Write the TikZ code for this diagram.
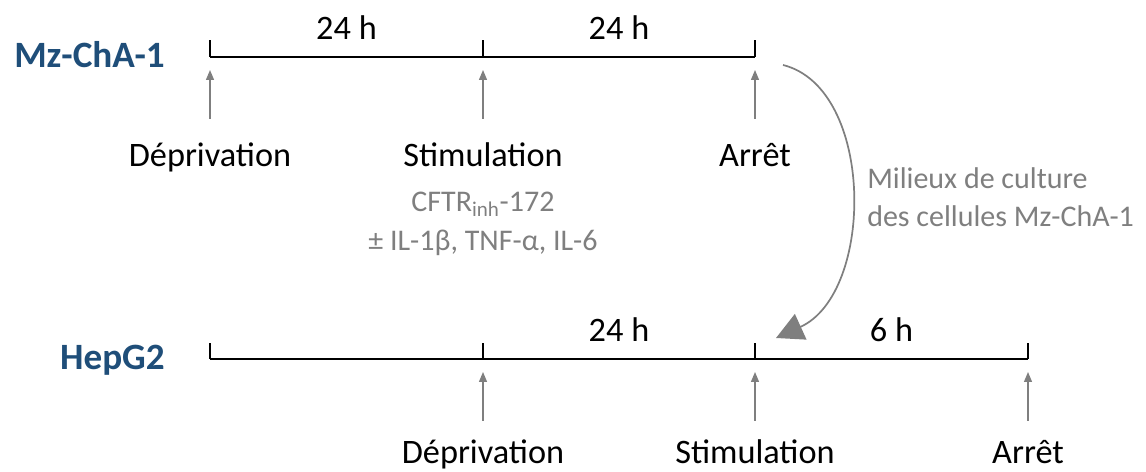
\documentclass[tikz,border=0pt]{standalone}
\usepackage{fontspec}
\setmainfont{Carlito}
\usepackage{tikz}
\usetikzlibrary{arrows.meta, positioning, calc}
\definecolor{cellblue}{RGB}{31, 78, 121}
\definecolor{softgray}{RGB}{127, 127, 127}

\begin{document}
\begin{tikzpicture}[x=0.7pt, y=-0.7pt,
    timeline/.style={line width=1.4pt, black},
    tickmark/.style={line width=1.2pt, black},
    uparrow/.style={-{Triangle[length=7pt, width=5.6pt]}, line width=0.9pt, softgray, shorten >=9.1pt},
    cellname/.style={font=\fontsize{26}{31}\selectfont\bfseries, text=cellblue, anchor=base east, inner sep=0pt},
    eventlabel/.style={font=\fontsize{24}{29}\selectfont, anchor=base, inner sep=0pt},
    duration/.style={font=\fontsize{24}{29}\selectfont, midway, anchor=base, yshift=11.9pt, inner sep=0pt},
    note/.style={font=\fontsize{21}{27}\selectfont, text=softgray, inner sep=0pt}]
    \useasboundingbox (0,0) rectangle (1146,472);

    % Mz-ChA-1 timeline
    \node[cellname] (mzcha) at (165,68) {Mz-ChA-1};
    \coordinate (m1) at (210,57);
    \coordinate (m2) at (483,57);
    \coordinate (m3) at (755,57);
    \draw[timeline] (m1) -- node[duration] (d1) {24 h} (m2) -- node[duration] (d2) {24 h} (m3);
    \foreach \p in {m1, m2, m3} {
        \draw[tickmark] (\p) -- ++(0,-17);
    }

    % Mz-ChA-1 events
    \foreach \p/\t in {m1/Déprivation, m2/Stimulation, m3/Arrêt} {
        \coordinate (\p base) at ($(\p)+(0,62)$);
        \draw[uparrow] (\p base) -- (\p);
        \node[eventlabel] (\p text) at ($(\p)+(0,110)$) {\t};
    }

    % Treatment
    \node[note, align=center, anchor=north] (treat) at (483,192)
        {CFTR\textsubscript{inh}-172\\± IL-1β, TNF-α, IL-6};

    % Conditioned medium
    \coordinate (cstart) at (783,65);
    \coordinate (cend) at (776,338);
    \draw[line width=1.2pt, softgray, -{Triangle[length=19pt, width=19.5pt]}]
        (cstart) .. controls +(92,23) and +(99,-45) .. (cend);
    \node[note, align=left, anchor=north west] (medium) at (867,167)
        {Milieux de culture\\des cellules Mz-ChA-1};

    % HepG2 timeline
    \node[cellname] (hepg) at (165,370) {HepG2};
    \coordinate (h1) at (210,359);
    \coordinate (h2) at (483,359);
    \coordinate (h3) at (755,359);
    \coordinate (h4) at (1028,359);
    \draw[timeline] (h1) -- (h2) -- node[duration] (d3) {24 h} (h3) -- node[duration] (d4) {6 h} (h4);
    \foreach \p in {h1, h2, h3, h4} {
        \draw[tickmark] (\p) -- ++(0,-16);
    }

    % HepG2 events
    \foreach \p/\t in {h2/Déprivation, h3/Stimulation, h4/Arrêt} {
        \coordinate (\p base) at ($(\p)+(0,62)$);
        \draw[uparrow] (\p base) -- (\p);
        \node[eventlabel] (\p text) at ($(\p)+(0,104)$) {\t};
    }
\end{tikzpicture}
\end{document}
